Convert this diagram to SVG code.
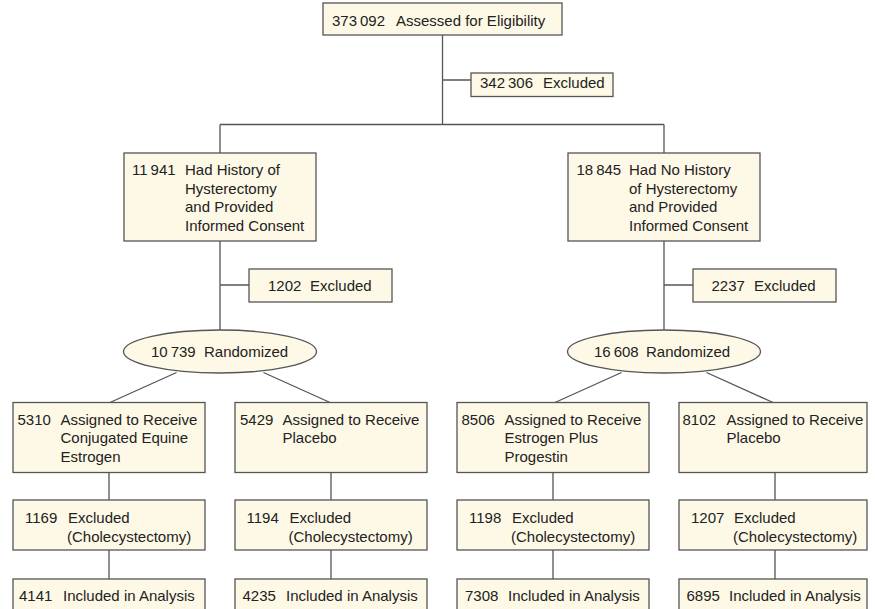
<svg xmlns="http://www.w3.org/2000/svg" width="875" height="609" viewBox="0 0 875 609">
<style>
.box{fill:#fdf9e6;stroke:#555;stroke-width:1.3}
.ell{fill:#fdf9e6;stroke:#555;stroke-width:1.3}
.ln{stroke:#555;stroke-width:1.3;fill:none}
text{font-family:"Liberation Sans",Arial,sans-serif;font-size:15px;fill:#222}
</style>
<rect width="875" height="609" fill="#fff"/>
<g id="connectors">
<path class="ln" d="M442.5 35V124.5M442.5 80H471M220 124.5H664M220 124.5V153M664 124.5V153"/>
<path class="ln" d="M220 241V330M220 285H249M664 241V330M664 285H693"/>
<path class="ln" d="M176.5 372.5L110 402.5M263.5 372.5L330 402.5M621.5 372.5L555 402.5M706.5 372.5L773 402.5"/>
<path class="ln" d="M109 472.5V500M109 550V579M331 472.5V500M331 550V579M553 472.5V500M553 550V579M775 472.5V500M775 550V579"/>
</g>
<g id="n_assessed"><rect class="box" x="323" y="3" width="239" height="32"/><text x="332" y="26">373&#8201;092</text><text x="396" y="26">Assessed for Eligibility</text></g>
<g id="n_excl0"><rect class="box" x="471" y="73" width="142" height="23.5"/><text x="480" y="88">342&#8201;306</text><text x="543" y="88">Excluded</text></g>
<g id="n_hyst"><rect class="box" x="124" y="153" width="192" height="88"/><text x="132" y="175">11&#8201;941</text><text x="185" y="175">Had History of</text><text x="185" y="193.5">Hysterectomy</text><text x="185" y="212">and Provided</text><text x="185" y="230.5">Informed Consent</text></g>
<g id="n_nohyst"><rect class="box" x="568" y="153" width="192" height="88"/><text x="576.5" y="175">18&#8201;845</text><text x="629" y="175">Had No History</text><text x="629" y="193.5">of Hysterectomy</text><text x="629" y="212">and Provided</text><text x="629" y="230.5">Informed Consent</text></g>
<g id="n_excl1"><rect class="box" x="249" y="269" width="143" height="33"/><text x="268" y="290.5">1202</text><text x="310" y="290.5">Excluded</text></g>
<g id="n_excl2"><rect class="box" x="693" y="269" width="143" height="33"/><text x="711.5" y="290.5">2237</text><text x="754" y="290.5">Excluded</text></g>
<g id="n_rand1"><ellipse class="ell" cx="220" cy="351.5" rx="96.5" ry="21.5"/><text x="151" y="356.5">10&#8201;739</text><text x="204" y="356.5">Randomized</text></g>
<g id="n_rand2"><ellipse class="ell" cx="664" cy="351.5" rx="96.5" ry="21.5"/><text x="594" y="356.5">16&#8201;608</text><text x="646" y="356.5">Randomized</text></g>
<g id="n_cee"><rect class="box" x="13" y="402.5" width="192" height="70"/><text x="17.5" y="424.5">5310</text><text x="60.5" y="424.5">Assigned to Receive</text><text x="60.5" y="443">Conjugated Equine</text><text x="60.5" y="461.5">Estrogen</text></g>
<g id="n_plac1"><rect class="box" x="235" y="402.5" width="192" height="70"/><text x="240" y="424.5">5429</text><text x="282.5" y="424.5">Assigned to Receive</text><text x="282.5" y="443">Placebo</text></g>
<g id="n_epp"><rect class="box" x="457" y="402.5" width="192" height="70"/><text x="461.5" y="424.5">8506</text><text x="504.5" y="424.5">Assigned to Receive</text><text x="504.5" y="443">Estrogen Plus</text><text x="504.5" y="461.5">Progestin</text></g>
<g id="n_plac2"><rect class="box" x="679" y="402.5" width="188" height="70"/><text x="682.5" y="424.5">8102</text><text x="726.5" y="424.5">Assigned to Receive</text><text x="726.5" y="443">Placebo</text></g>
<g id="n_ex3"><rect class="box" x="13" y="500" width="192" height="50"/><text x="25" y="522.5">1169</text><text x="68" y="522.5">Excluded</text><text x="67" y="541.5">(Cholecystectomy)</text></g>
<g id="n_ex4"><rect class="box" x="235" y="500" width="192" height="50"/><text x="246.5" y="522.5">1194</text><text x="289.5" y="522.5">Excluded</text><text x="288.5" y="541.5">(Cholecystectomy)</text></g>
<g id="n_ex5"><rect class="box" x="457" y="500" width="192" height="50"/><text x="469" y="522.5">1198</text><text x="512" y="522.5">Excluded</text><text x="511" y="541.5">(Cholecystectomy)</text></g>
<g id="n_ex6"><rect class="box" x="679" y="500" width="188" height="50"/><text x="691" y="522.5">1207</text><text x="734" y="522.5">Excluded</text><text x="733" y="541.5">(Cholecystectomy)</text></g>
<g id="n_inc1"><rect class="box" x="13" y="579" width="192" height="40"/><text x="19" y="601">4141</text><text x="63" y="601">Included in Analysis</text></g>
<g id="n_inc2"><rect class="box" x="235" y="579" width="192" height="40"/><text x="242.5" y="601">4235</text><text x="286" y="601">Included in Analysis</text></g>
<g id="n_inc3"><rect class="box" x="457" y="579" width="192" height="40"/><text x="465" y="601">7308</text><text x="508" y="601">Included in Analysis</text></g>
<g id="n_inc4"><rect class="box" x="679" y="579" width="188" height="40"/><text x="686.5" y="601">6895</text><text x="729" y="601">Included in Analysis</text></g>
</svg>
